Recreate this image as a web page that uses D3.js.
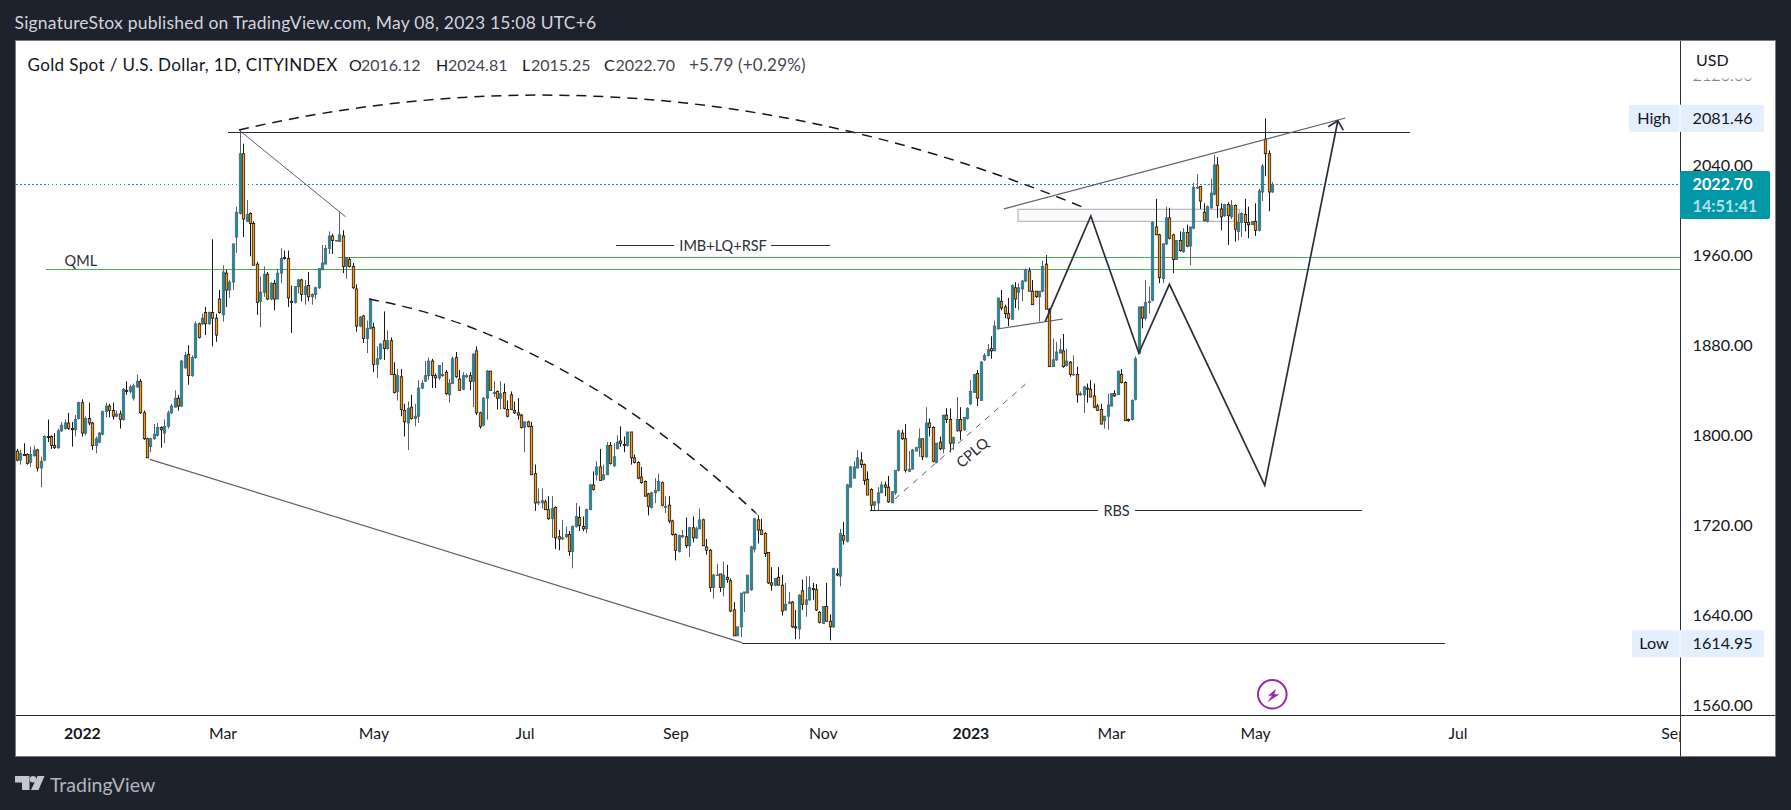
<!DOCTYPE html>
<html>
<head>
<meta charset="utf-8">
<script src="https://cdnjs.cloudflare.com/ajax/libs/d3/7.8.5/d3.min.js"></script>
<style>
  html, body { margin: 0; background: #1e222d; overflow: hidden; }
  svg { display: block; }
  text { font-family: Lato, "Open Sans", sans-serif; }
</style>
</head>
<body>
<svg id="chart" width="1791" height="810"></svg>
<script>
// daily bars: [open, high, low, close]
const barsDec21Feb22 = [
  [1786,1788,1777,1778],[1778,1787,1774,1784],[1783,1793,1782,1782],[1783,1784,1774,1775],[1776,1790,1772,1783],
  [1782,1791,1781,1787],[1787,1788,1768,1771],[1771,1781,1754,1777],[1778,1800,1777,1799],[1799,1814,1794,1798],
  [1799,1800,1788,1791],[1791,1802,1788,1789],[1789,1806,1788,1804],[1804,1812,1803,1809],[1806,1814,1805,1811],
  [1811,1820,1805,1806],[1806,1812,1790,1805],[1805,1818,1799,1814],[1815,1830,1814,1829],[1829,1832,1799,1802],
  [1802,1817,1800,1815],[1815,1829,1809,1811],[1811,1812,1787,1791],[1791,1799,1784,1797],[1794,1803,1793,1802],
  [1801,1822,1800,1821],[1821,1829,1816,1826],[1826,1828,1816,1822],[1822,1829,1814,1817],[1817,1822,1816,1819],
  [1819,1822,1806,1814],[1814,1842,1813,1841],[1840,1848,1836,1839],[1839,1845,1837,1843],[1833,1846,1831,1844],
  [1843,1854,1842,1848],[1848,1850,1819,1820],[1820,1822,1796,1797],[1797,1798,1780,1780],[1790,1798,1785,1797],
  [1797,1810,1796,1801],[1800,1811,1799,1807],[1807,1808,1789,1805],[1802,1814,1793,1808],[1808,1822,1806,1820],
  [1820,1828,1819,1826],[1825,1840,1825,1833],[1833,1836,1822,1826],[1826,1867,1825,1866],[1860,1874,1859,1871],
  [1872,1880,1845,1853],[1853,1871,1852,1869],[1869,1901,1868,1899],[1899,1900,1886,1887],[1899,1908,1898,1904],
  [1909,1914,1889,1899],[1899,1910,1898,1909],[1909,1974,1879,1904],[1904,1908,1883,1889],[1921,1929,1908,1909]
];
const barsMarMay22 = [
  [1907,1951,1901,1945],[1944,1947,1914,1929],[1929,1938,1922,1936],[1936,1970,1929,1970],[1976,2003,1962,1998],
  [1997,2071,1996,2050],[2050,2059,1976,1992],[1990,2009,1990,1996],[1997,1998,1959,1988],[1988,1990,1951,1951],
  [1952,1954,1907,1918],[1919,1941,1896,1927],[1927,1950,1923,1943],[1943,1945,1920,1921],[1921,1936,1920,1935],
  [1935,1938,1911,1921],[1921,1948,1921,1944],[1944,1966,1935,1957],[1958,1964,1956,1957],[1957,1964,1914,1922],
  [1919,1933,1891,1918],[1918,1932,1917,1932],[1932,1939,1926,1938],[1938,1939,1919,1925],[1925,1938,1916,1932],
  [1933,1945,1919,1923],[1923,1926,1916,1925],[1925,1932,1921,1931],[1931,1948,1930,1948],[1947,1969,1947,1953],
  [1952,1969,1952,1966],[1966,1981,1961,1977],[1977,1979,1961,1973],[1973,1973,1972,1973],[1972,1998,1972,1978],
  [1977,1982,1944,1950],[1950,1958,1939,1958],[1956,1958,1949,1950],[1950,1953,1930,1931],[1930,1934,1892,1897],
  [1897,1906,1896,1905],[1906,1907,1882,1886],[1886,1902,1873,1895],[1895,1921,1894,1921],[1896,1900,1856,1863],
  [1863,1879,1851,1868],[1868,1882,1867,1881],[1884,1910,1867,1877],[1877,1893,1876,1884],[1884,1887,1854,1854],
  [1854,1865,1837,1838],[1839,1859,1831,1853]
];
const barsJunAug22 = [
  [1852,1859,1817,1823],[1822,1828,1799,1812],[1811,1830,1787,1824],[1825,1836,1814,1815],[1815,1828,1808,1817],
  [1817,1849,1811,1842],[1842,1849,1841,1846],[1848,1866,1848,1853],[1853,1869,1849,1866],[1866,1868,1842,1853],
  [1853,1855,1842,1851],[1851,1862,1849,1862],[1853,1865,1852,1854],[1856,1858,1836,1837],[1836,1850,1829,1846],
  [1846,1870,1846,1868],[1869,1874,1851,1852],[1850,1858,1840,1840],[1841,1856,1840,1853],[1852,1855,1851,1853],
  [1853,1856,1840,1848],[1848,1873,1825,1872],[1875,1879,1818,1820],[1820,1821,1806,1808],[1809,1834,1808,1833],
  [1833,1858,1814,1857],[1857,1857,1840,1840],[1837,1848,1834,1838],[1839,1840,1823,1833],[1833,1848,1823,1837],
  [1838,1846,1823,1824],[1823,1831,1816,1817],[1836,1839,1823,1823],[1822,1830,1819,1820],[1820,1833,1814,1818],
  [1818,1819,1806,1807],[1807,1812,1785,1812],[1812,1813,1807,1808],[1808,1812,1765,1765],[1766,1774,1733,1740],
  [1740,1753,1738,1741],[1740,1753,1735,1742],[1741,1743,1734,1734],[1734,1746,1725,1726],[1726,1746,1709,1735],
  [1736,1737,1699,1709],[1710,1716,1698,1708],[1708,1725,1707,1709],[1710,1719,1709,1712],[1712,1715,1693,1697],
  [1697,1720,1682,1719],[1719,1740,1718,1728],[1727,1737,1715,1720],[1719,1728,1715,1717],[1717,1735,1713,1734],
  [1734,1757,1734,1756],[1756,1768,1751,1752],[1765,1777,1760,1772],[1772,1788,1760,1760],[1761,1774,1760,1765],
  [1765,1794,1765,1791],[1791,1794,1774,1775],[1773,1793,1772,1781],[1788,1800,1788,1794],[1795,1808,1790,1793],
  [1792,1799,1785,1791],[1791,1803,1790,1803]
];
const barsSepNov22 = [
  [1803,1803,1774,1780],[1780,1783,1775,1776],[1776,1777,1761,1762],[1763,1772,1757,1758],[1759,1760,1746,1746],
  [1748,1749,1729,1737],[1736,1750,1735,1749],[1749,1762,1740,1751],[1751,1766,1750,1759],[1758,1759,1737,1738],
  [1736,1746,1731,1737],[1738,1746,1722,1724],[1724,1725,1711,1712],[1712,1713,1689,1698],[1697,1712,1696,1711],
  [1710,1716,1709,1711],[1710,1727,1700,1702],[1702,1719,1692,1718],[1718,1728,1705,1709],[1709,1719,1708,1717],
  [1717,1735,1717,1725],[1725,1726,1702,1702],[1701,1708,1694,1698],[1698,1699,1661,1665],[1665,1677,1655,1676],
  [1676,1686,1675,1676],[1677,1677,1661,1665],[1665,1688,1657,1676],[1674,1685,1669,1672],[1671,1673,1643,1644],
  [1645,1652,1622,1622],[1622,1630,1622,1630],[1630,1660,1621,1660],[1660,1661,1643,1661],[1660,1676,1660,1676],
  [1663,1702,1662,1701],[1699,1726,1696,1726],[1725,1729,1704,1716],[1716,1726,1712,1712],[1713,1714,1692,1695],
  [1696,1696,1668,1669],[1669,1683,1662,1667],[1667,1673,1666,1673],[1674,1683,1667,1667],[1667,1676,1640,1644],
  [1645,1669,1644,1650],[1651,1661,1650,1652],[1652,1653,1629,1630],[1630,1645,1619,1629],[1628,1659,1619,1658],
  [1662,1672,1645,1650],[1650,1675,1639,1654],[1654,1675,1653,1665],[1664,1669,1654,1663],[1663,1668,1644,1645],
  [1643,1644,1633,1634],[1633,1648,1633,1648],[1648,1669,1635,1635],[1635,1641,1618,1630],[1630,1682,1629,1682],
  [1677,1682,1675,1676],[1675,1717,1666,1713],[1711,1723,1703,1707],[1706,1757,1705,1756],[1754,1773,1754,1772],
  [1762,1777,1762,1772],[1771,1787,1771,1780],[1778,1785,1771,1774],[1774,1775,1756,1760],[1761,1768,1747,1747]
];
const barsDec22Feb23 = [
  [1752,1753,1733,1738],[1738,1741,1733,1741],[1740,1754,1733,1749],[1749,1759,1749,1756],[1756,1759,1746,1754],
  [1754,1764,1740,1741],[1740,1750,1740,1750],[1749,1769,1747,1769],[1769,1805,1768,1804],[1802,1805,1796,1797],
  [1797,1810,1767,1769],[1768,1786,1768,1770],[1770,1788,1770,1787],[1786,1790,1786,1789],[1789,1806,1781,1797],
  [1797,1797,1778,1781],[1781,1825,1780,1811],[1811,1815,1799,1807],[1807,1808,1776,1777],[1776,1793,1775,1793],
  [1794,1799,1787,1788],[1788,1818,1784,1818],[1818,1824,1811,1814],[1814,1824,1785,1793],[1793,1799,1787,1798],
  [1804,1834,1803,1814],[1814,1825,1796,1804],[1805,1816,1804,1816],[1815,1825,1814,1824],[1828,1849,1827,1839],
  [1838,1854,1838,1854],[1855,1858,1826,1833],[1831,1866,1831,1865],[1867,1873,1866,1871],[1871,1881,1870,1876],
  [1877,1888,1868,1875],[1875,1902,1875,1897],[1895,1922,1894,1922],[1919,1929,1911,1913],[1914,1916,1904,1908],
  [1908,1922,1897,1904],[1903,1934,1903,1933],[1931,1936,1913,1921],[1927,1935,1911,1931],[1930,1938,1919,1937],
  [1937,1948,1936,1947],[1946,1949,1928,1928],[1928,1938,1916,1916],[1928,1928,1922,1923],[1923,1928,1901,1928],
  [1928,1955,1927,1950],[1952,1960,1912,1912],[1912,1913,1861,1861],[1861,1886,1861,1867],[1867,1883,1866,1874],
  [1873,1886,1873,1876],[1875,1890,1860,1861],[1862,1877,1861,1866],[1865,1866,1852,1854],[1854,1871,1853,1854],
  [1854,1861,1829,1836],[1836,1839,1835,1837],[1836,1844,1820,1843],[1842,1846,1829,1841],[1841,1849,1834,1834],
  [1835,1846,1824,1825],[1826,1828,1822,1822],[1823,1828,1810,1810]
];
const barsMarMay23 = [
  [1813,1817,1806,1817],[1817,1837,1805,1827],[1826,1837,1826,1837],[1837,1840,1834,1835],[1836,1857,1836,1857],
  [1854,1859,1846,1847],[1847,1848,1813,1813],[1814,1815,1812,1813],[1814,1832,1813,1831],[1832,1870,1831,1868],
  [1873,1914,1872,1914],[1914,1914,1895,1904],[1904,1938,1902,1918],[1918,1932,1908,1919],[1920,1990,1919,1989],
  [1985,2010,1978,1978],[1978,1979,1935,1940],[1939,1970,1935,1970],[1970,2003,1969,1993],[1993,2002,1974,1975],
  [1978,1979,1944,1956],[1956,1973,1956,1973],[1973,1981,1963,1964],[1963,1984,1962,1980],[1980,1987,1967,1968],
  [1968,1985,1951,1985],[1984,2024,1983,2020],[2020,2032,2019,2020],[2021,2021,2001,2008],[1998,2006,1990,1991],
  [1990,2004,1989,2003],[2002,2028,2001,2015],[2014,2049,2013,2040],[2040,2047,1993,2004],[2001,2006,1982,1994],
  [1995,2005,1994,2005],[2005,2007,1969,1995],[1994,2009,1992,2004],[2004,2005,1972,1983],[1981,1997,1973,1989],
  [1989,1998,1976,1997],[1996,2010,1981,1989],[1989,2003,1975,1987],[1987,1990,1987,1990],[1990,2006,1977,1982],
  [1982,2019,1981,2017],[2016,2041,2008,2039],[2063,2081.46,2030,2050],[2050,2053,1999,2016],[2016.12,2024.81,2015.25,2022.70]
];
const bars = [...barsDec21Feb22, ...barsMarMay22, ...barsJunAug22, ...barsSepNov22, ...barsDec22Feb23, ...barsMarMay23];

const priceTicks = [2120, 2040, 1960, 1880, 1800, 1720, 1640, 1560];
const timeLabels = ['2022', 'Mar', 'May', 'Jul', 'Sep', 'Nov', '2023', 'Mar', 'May', 'Jul', 'Sep'];
const timeBars = [19, 60, 104, 148, 192, 235, 278, 319, 361, 420, 483];
const yearLabels = ['2022', '2023'];

const lastClose = 2022.70;
const highValue = 2081.46;
const lowValue = 1614.95;

// drawings, as [bar, price] pairs
const arcOne = [[64.8, 2071.1], [188.4, 2158], [312, 2001]];
const arcTwo = [[102.7, 1921], [159.1, 1890], [215.5, 1731]];
const arcTwoHook = [[215, 1733], [216, 1729]];
const peakLine = [[64.8, 2071], [95.9, 1994]];
const bottomLine = [[38.8, 1778.7], [211.4, 1616]];
const lowLine = [[211.4, 1615.4], [416.4, 1615.4]];
const highLine = [[61.6, 2069], [406.2, 2069]];
const imbLeft = [[174.7, 1968.7], [191.6, 1968.7]];
const imbRight = [[219.9, 1968.7], [237.1, 1968.7]];
const rbsLeft = [[248.8, 1733.7], [315.2, 1733.7]];
const rbsRight = [[326, 1733.7], [392.2, 1733.7]];
const cplqLine = [[256, 1743.5], [294.8, 1847.4]];
const wedgeLine = [[287.8, 2001], [387.3, 2081.7]];
const neckLine = [[285.7, 1894.4], [305, 1903.3]];
const zigzag = [[299.8, 1900.9], [313.1, 1994.7], [327.1, 1873.1], [336, 1934], [363.8, 1755.6], [385.1, 2079.3]];
const arrowHead = [[382.3, 2074], [385.1, 2079.3], [386.7, 2071]];
const zoneBox = [[291.9, 2000.7], [356.4, 1990]];
const qmlGreen = [8.5, 1947.4];
const upperGreen = [93.7, 1958.1];

const svg = d3.select('#chart');
const plotLeft = 16, plotRight = 1680, plotTop = 41, plotBottom = 715, frameRight = 1775.5, frameBottom = 756.5;
const ink = '#131722', dark = '#2a2e39', grey = '#5d606b', teal = '#0097a7', orange = '#ff9800', green = '#4caf50';

const x = d3.scaleLinear().domain([0, bars.length - 1]).range([16.7, 1272.3]);
const y = d3.scaleLinear().domain([1560, 2040]).range([705.7, 165]);

const defs = svg.append('defs');
defs.append('clipPath').attr('id', 'plot').append('rect')
    .attr('x', plotLeft).attr('y', plotTop).attr('width', plotRight - plotLeft).attr('height', plotBottom - plotTop);
const fade = defs.append('linearGradient').attr('id', 'fade').attr('x1', 0).attr('x2', 0).attr('y1', 0).attr('y2', 1);
fade.append('stop').attr('offset', '0%').attr('stop-color', '#fff').attr('stop-opacity', 1);
fade.append('stop').attr('offset', '100%').attr('stop-color', '#fff').attr('stop-opacity', 0.1);

// header
svg.append('text').attr('x', 14.5).attr('y', 28.5).attr('fill', '#d1d4dc').attr('font-size', 17.5)
    .attr('letter-spacing', 0.22)
    .text('SignatureStox published on TradingView.com, May 08, 2023 15:08 UTC+6');

svg.append('rect').attr('x', 15.5).attr('y', 40.5)
    .attr('width', frameRight - 15.5).attr('height', frameBottom - 40.5)
    .attr('fill', '#fff').attr('stroke', '#787b86');

const plot = svg.append('g').attr('clip-path', 'url(#plot)');

plot.append('rect')
    .attr('x', x(zoneBox[0][0])).attr('y', y(zoneBox[0][1]))
    .attr('width', x(zoneBox[1][0]) - x(zoneBox[0][0]))
    .attr('height', y(zoneBox[1][1]) - y(zoneBox[0][1]))
    .attr('fill', '#787b86').attr('fill-opacity', 0.04).attr('stroke', '#a9abb2').attr('stroke-width', 1);

// last price line and the green levels sit under the candles
plot.append('line').attr('x1', plotLeft).attr('x2', plotRight).attr('y1', y(lastClose)).attr('y2', y(lastClose))
    .attr('stroke', teal).attr('stroke-dasharray', '1.5 2.5').attr('shape-rendering', 'crispEdges');
plot.append('line').attr('x1', x(qmlGreen[0])).attr('x2', plotRight).attr('y1', y(qmlGreen[1])).attr('y2', y(qmlGreen[1]))
    .attr('stroke', green).attr('shape-rendering', 'crispEdges');
plot.append('line').attr('x1', x(upperGreen[0])).attr('x2', plotRight).attr('y1', y(upperGreen[1])).attr('y2', y(upperGreen[1]))
    .attr('stroke', green).attr('shape-rendering', 'crispEdges');

const candle = plot.selectAll('g.candle').data(bars).enter().append('g').attr('class', 'candle');
candle.append('line')
    .attr('x1', (d, i) => Math.round(x(i)) + 0.5).attr('x2', (d, i) => Math.round(x(i)) + 0.5)
    .attr('y1', d => y(d[1])).attr('y2', d => y(d[2]))
    .attr('stroke', d => d[3] >= d[0] ? grey : ink);
candle.append('rect')
    .attr('x', (d, i) => Math.round(x(i)) - 0.7).attr('width', 2.4)
    .attr('y', d => y(Math.max(d[0], d[3])))
    .attr('height', d => Math.max(Math.abs(y(d[0]) - y(d[3])), 0.5))
    .attr('fill', d => d[3] >= d[0] ? teal : orange)
    .attr('stroke', d => d[3] >= d[0] ? grey : ink).attr('stroke-width', 0.8);

const toLine = d3.line().x(d => x(d[0])).y(d => y(d[1]));

function drawLine(points, color, width, dash, crisp) {
    plot.append('path').attr('d', toLine(points)).attr('fill', 'none')
        .attr('stroke', color).attr('stroke-width', width).attr('stroke-dasharray', dash || null)
        .attr('shape-rendering', crisp ? 'crispEdges' : null);
}

function drawArc(points) {
    const p = d3.path();
    p.moveTo(x(points[0][0]), y(points[0][1]));
    p.quadraticCurveTo(x(points[1][0]), y(points[1][1]), x(points[2][0]), y(points[2][1]));
    plot.append('path').attr('d', p.toString()).attr('fill', 'none')
        .attr('stroke', ink).attr('stroke-width', 1.5).attr('stroke-dasharray', '10 7');
}

drawArc(arcOne);
drawArc(arcTwo);
drawLine(arcTwoHook, grey, 1);
drawLine(peakLine, grey, 1);
drawLine(bottomLine, grey, 1.2);
drawLine(lowLine, dark, 1, null, true);
drawLine(highLine, dark, 1, null, true);
drawLine(imbLeft, dark, 1, null, true);
drawLine(imbRight, dark, 1, null, true);
drawLine(rbsLeft, dark, 1, null, true);
drawLine(rbsRight, dark, 1, null, true);
drawLine(cplqLine, grey, 1, '6 6');
drawLine(wedgeLine, grey, 1.2);
drawLine(neckLine, grey, 1.2);
drawLine(zigzag, dark, 1.7);
drawLine(arrowHead, dark, 1.7);

function noteText(bar, price, label, angle) {
    const t = plot.append('text').attr('text-anchor', 'middle').attr('dominant-baseline', 'central')
        .attr('font-size', 14.5).attr('fill', dark).text(label);
    t.attr('transform', `translate(${x(bar)},${y(price)}) rotate(${angle || 0})`);
}
noteText(18.7, 1955.3, 'QML');
noteText(205.9, 1968.7, 'IMB+LQ+RSF');
noteText(320.6, 1733.7, 'RBS');
noteText(278.5, 1785, 'CPLQ', -41);

// lightning mark
const bolt = plot.append('g').attr('transform', `translate(${x(bars.length - 1)},694.3)`);
bolt.append('circle').attr('r', 14.3).attr('fill', '#fff').attr('stroke', '#9c27b0').attr('stroke-width', 2);
bolt.append('path').attr('d', 'M3.7,-5.3 L-4.3,1.4 L-0.3,1.4 L-5,8 L7,0 L2,0 Z').attr('fill', '#9c27b0');

// time axis
const timeAxis = d3.axisBottom(x).tickValues(timeBars).tickSize(0).tickPadding(12)
    .tickFormat((d, i) => timeLabels[i]);
const timeG = svg.append('g').attr('transform', `translate(0,${plotBottom + 0.5})`).call(timeAxis);
timeG.select('.domain').remove();
timeG.selectAll('text').attr('font-size', 15.8).attr('fill', ink)
    .attr('font-weight', (d, i) => yearLabels.includes(timeLabels[i]) ? 700 : 400);

svg.append('rect').attr('x', plotRight).attr('y', plotTop).attr('width', frameRight - plotRight - 0.5).attr('height', frameBottom - plotTop - 0.5)
    .attr('fill', '#fff');

// price axis
const priceAxis = d3.axisRight(y).tickValues(priceTicks).tickSize(0).tickPadding(12.5).tickFormat(d3.format('.2f'));
const priceG = svg.append('g').attr('transform', `translate(${plotRight},0)`).call(priceAxis);
priceG.select('.domain').remove();
priceG.selectAll('text').attr('font-size', 16.2).attr('fill', ink);

svg.append('rect').attr('x', plotRight + 1).attr('y', plotTop).attr('width', 94).attr('height', 36).attr('fill', '#fff');
svg.append('rect').attr('x', plotRight + 1).attr('y', 77).attr('width', 94).attr('height', 6).attr('fill', 'url(#fade)');
svg.append('text').attr('x', 1696).attr('y', 66).attr('font-size', 16).attr('fill', ink).text('USD');

svg.append('line').attr('x1', plotLeft).attr('x2', frameRight).attr('y1', plotBottom + 0.5).attr('y2', plotBottom + 0.5).attr('stroke', dark);
svg.append('line').attr('x1', plotRight + 0.5).attr('x2', plotRight + 0.5).attr('y1', plotTop).attr('y2', frameBottom).attr('stroke', dark);

// high and low tags
function priceTag(value, label, tagLeft) {
    const cy = y(value);
    svg.append('rect').attr('x', tagLeft).attr('y', cy - 13.5).attr('width', 1764 - tagLeft).attr('height', 27)
        .attr('rx', 2).attr('fill', '#e3effd');
    svg.append('line').attr('x1', plotRight).attr('x2', plotRight).attr('y1', cy - 13.5).attr('y2', cy + 13.5).attr('stroke', '#fff');
    svg.append('text').attr('x', 1654).attr('y', cy).attr('dy', '0.35em').attr('text-anchor', 'middle')
        .attr('font-size', 16.2).attr('fill', ink).text(label);
    svg.append('text').attr('x', plotRight + 12.5).attr('y', cy).attr('dy', '0.35em')
        .attr('font-size', 16.2).attr('fill', ink).text(d3.format('.2f')(value));
}
priceTag(highValue, 'High', 1629);
priceTag(lowValue, 'Low', 1632);

// last price tag
svg.append('rect').attr('x', plotRight).attr('y', 171).attr('width', 90).attr('height', 48).attr('rx', 2).attr('fill', teal);
svg.append('text').attr('x', plotRight + 12.5).attr('y', y(lastClose)).attr('dy', '0.35em')
    .attr('font-size', 16.2).attr('font-weight', 700).attr('fill', '#fff').text(d3.format('.2f')(lastClose));
svg.append('text').attr('x', plotRight + 12.5).attr('y', 206.5).attr('dy', '0.35em')
    .attr('font-size', 16.2).attr('font-weight', 700).attr('fill', '#b2e0e5').text('14:51:41');

// legend
const legendItems = [
  ['Gold Spot / U.S. Dollar, 1D, CITYINDEX', 27.5, ink, 0.38],
  ['O', 349, ink, 0], ['2016.12', 361, '#434651', 0],
  ['H', 436, ink, 0], ['2024.81', 448, '#434651', 0],
  ['L', 522, ink, 0], ['2015.25', 531, '#434651', 0],
  ['C', 604, ink, 0], ['2022.70', 615.5, '#434651', 0],
  ['+5.79 (+0.29%)', 689, '#434651', 0.2]
];
svg.selectAll('text.legend').data(legendItems).enter().append('text').attr('class', 'legend')
    .attr('x', d => d[1]).attr('y', 70.5).attr('font-size', d => d[3] ? 17 : 16).attr('letter-spacing', d => d[3])
    .attr('fill', d => d[2]).text(d => d[0]);

// footer logo
const logo = svg.append('g').attr('fill', '#c4c7d1');
logo.append('path').attr('d', 'M15,776 H29.5 V790 H22 V782.5 H15 Z');
logo.append('circle').attr('cx', 33).attr('cy', 779.3).attr('r', 3.2);
logo.append('path').attr('d', 'M37.5,776 H44.5 L38.5,790 H31 Z');
svg.append('text').attr('x', 50).attr('y', 791.5).attr('font-size', 19.5).attr('fill', '#b2b5be').text('TradingView');
</script>
</body>
</html>
